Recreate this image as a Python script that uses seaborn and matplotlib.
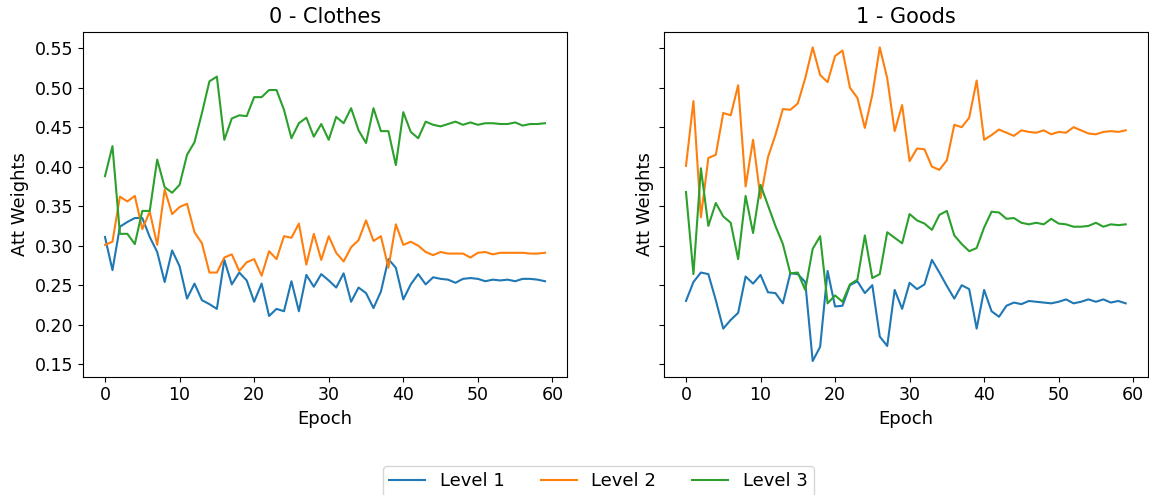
import numpy as np
import pandas as pd
import matplotlib
matplotlib.use("Agg")
import matplotlib.pyplot as plt
import seaborn as sns

# Attention weights per level over training epochs, one panel per task
epochs = list(range(60))
levels = ["Level 1", "Level 2", "Level 3"]
panel_titles = ["0 - Clothes", "1 - Goods"]

clothes_level1 = [0.311, 0.269, 0.324, 0.330, 0.335, 0.335, 0.311, 0.292, 0.254, 0.294,
                  0.274, 0.233, 0.252, 0.231, 0.226, 0.220, 0.282, 0.251, 0.266, 0.256,
                  0.229, 0.252, 0.211, 0.220, 0.217, 0.255, 0.217, 0.263, 0.248, 0.264,
                  0.256, 0.247, 0.265, 0.229, 0.247, 0.240, 0.221, 0.242, 0.283, 0.272,
                  0.232, 0.251, 0.264, 0.251, 0.260, 0.258, 0.257, 0.253, 0.258, 0.259,
                  0.258, 0.255, 0.257, 0.256, 0.257, 0.255, 0.258, 0.258, 0.257, 0.255]
clothes_level2 = [0.301, 0.305, 0.362, 0.356, 0.363, 0.321, 0.343, 0.301, 0.371, 0.340,
                  0.349, 0.353, 0.317, 0.303, 0.266, 0.266, 0.285, 0.289, 0.268, 0.279,
                  0.283, 0.262, 0.293, 0.283, 0.312, 0.310, 0.328, 0.276, 0.315, 0.282,
                  0.312, 0.291, 0.280, 0.298, 0.307, 0.332, 0.306, 0.312, 0.272, 0.327,
                  0.301, 0.305, 0.300, 0.292, 0.288, 0.292, 0.290, 0.290, 0.290, 0.285,
                  0.291, 0.292, 0.289, 0.291, 0.291, 0.291, 0.291, 0.290, 0.290, 0.291]
clothes_level3 = [0.388, 0.426, 0.315, 0.315, 0.302, 0.344, 0.344, 0.409, 0.374, 0.367,
                  0.377, 0.415, 0.431, 0.468, 0.508, 0.514, 0.434, 0.461, 0.465, 0.464,
                  0.488, 0.488, 0.497, 0.497, 0.472, 0.436, 0.455, 0.462, 0.438, 0.454,
                  0.434, 0.463, 0.455, 0.474, 0.446, 0.430, 0.474, 0.445, 0.445, 0.402,
                  0.469, 0.444, 0.436, 0.457, 0.453, 0.451, 0.454, 0.457, 0.453, 0.456,
                  0.453, 0.455, 0.455, 0.454, 0.454, 0.456, 0.452, 0.454, 0.454, 0.455]

goods_level1 = [0.230, 0.254, 0.266, 0.264, 0.231, 0.195, 0.206, 0.215, 0.261, 0.252,
                0.263, 0.241, 0.240, 0.227, 0.265, 0.264, 0.254, 0.154, 0.172, 0.268,
                0.223, 0.224, 0.250, 0.255, 0.240, 0.250, 0.185, 0.173, 0.244, 0.220,
                0.253, 0.245, 0.251, 0.282, 0.266, 0.249, 0.233, 0.250, 0.245, 0.195,
                0.244, 0.217, 0.210, 0.224, 0.228, 0.226, 0.230, 0.229, 0.228, 0.227,
                0.229, 0.232, 0.227, 0.229, 0.232, 0.229, 0.232, 0.228, 0.230, 0.227]
goods_level2 = [0.401, 0.483, 0.336, 0.411, 0.415, 0.468, 0.465, 0.503, 0.375, 0.434,
                0.360, 0.412, 0.440, 0.473, 0.472, 0.480, 0.512, 0.551, 0.516, 0.507,
                0.540, 0.547, 0.500, 0.487, 0.449, 0.491, 0.551, 0.512, 0.445, 0.478,
                0.407, 0.423, 0.422, 0.400, 0.396, 0.408, 0.453, 0.450, 0.462, 0.509,
                0.434, 0.440, 0.447, 0.443, 0.439, 0.446, 0.444, 0.443, 0.446, 0.441,
                0.444, 0.443, 0.450, 0.446, 0.442, 0.441, 0.444, 0.445, 0.444, 0.446]
goods_level3 = [0.368, 0.264, 0.398, 0.325, 0.354, 0.337, 0.329, 0.283, 0.363, 0.316,
                0.377, 0.351, 0.325, 0.302, 0.265, 0.266, 0.244, 0.296, 0.312, 0.227,
                0.237, 0.229, 0.251, 0.257, 0.313, 0.259, 0.264, 0.317, 0.310, 0.303,
                0.340, 0.332, 0.328, 0.320, 0.339, 0.344, 0.313, 0.302, 0.293, 0.297,
                0.323, 0.343, 0.342, 0.334, 0.335, 0.329, 0.327, 0.329, 0.327, 0.334,
                0.328, 0.327, 0.324, 0.324, 0.325, 0.329, 0.324, 0.327, 0.326, 0.327]

panels = [
    [clothes_level1, clothes_level2, clothes_level3],
    [goods_level1, goods_level2, goods_level3],
]

palette = ["#1f77b4", "#ff7f0e", "#2ca02c"]

W, H = 1149, 495
fig = plt.figure(figsize=(W / 100, H / 100), dpi=100)
fig.patch.set_facecolor("white")

ax_left = fig.add_axes([83 / W, 1 - 376.7 / H, (567 - 83) / W, (376.7 - 31.7) / H])
ax_right = fig.add_axes([664 / W, 1 - 376.7 / H, (1147.7 - 664) / W, (376.7 - 31.7) / H],
                        sharey=ax_left)

for ax, title, series in zip([ax_left, ax_right], panel_titles, panels):
    df = pd.DataFrame({
        "Epoch": epochs * len(levels),
        "Att Weights": [v for s in series for v in s],
        "Level": [lvl for lvl in levels for _ in epochs],
    })
    sns.lineplot(data=df, x="Epoch", y="Att Weights", hue="Level",
                 palette=palette, ax=ax, linewidth=1.5, legend=False)
    ax.set_title(title, fontsize=15)
    ax.set_xlabel("Epoch", fontsize=13)
    ax.set_ylabel("Att Weights", fontsize=13)
    ax.tick_params(labelsize=12.5)
    ax.set_xticks([0, 10, 20, 30, 40, 50, 60])

ax_left.set_yticks([0.15, 0.20, 0.25, 0.30, 0.35, 0.40, 0.45, 0.50, 0.55])
ax_left.set_yticklabels([f"{t:.2f}" for t in ax_left.get_yticks()])
ax_right.tick_params(labelleft=False)

handles = [plt.Line2D([], [], color=c, linewidth=1.5) for c in palette]
fig.legend(handles, levels, loc="upper center", ncol=3,
           bbox_to_anchor=(598.5 / W, 1 - 457 / H), fontsize=13, frameon=True,
           borderpad=0.35)

fig.savefig("out.png", dpi=100, facecolor="white")
